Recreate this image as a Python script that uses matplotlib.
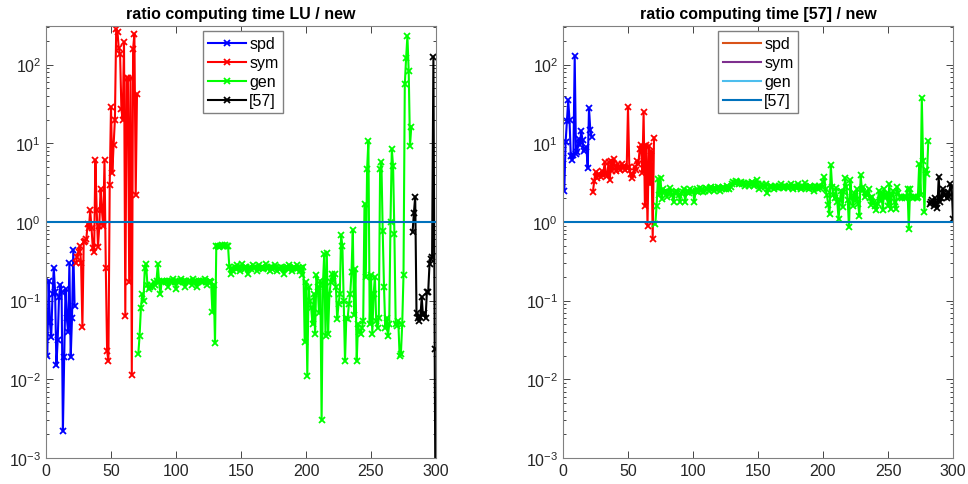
import numpy as np
import matplotlib
matplotlib.use("Agg")
import matplotlib.pyplot as plt
from matplotlib.lines import Line2D

plt.rcParams['font.family'] = ['Liberation Sans', 'DejaVu Sans']

# ---- left panel: ratio LU / new ----
lu_spd = [0.020, 0.18, 0.053, 0.034, 0.12, 0.26, 0.13, 0.015, 0.032, 0.11, 0.16,
          0.13, 0.0022, 0.019, 0.14, 0.06, 0.04, 0.30, 0.019, 0.06, 0.44, 0.085]
lu_sym = [0.30, 0.36, 0.42, 0.49, 0.30, 0.046, 0.56, 0.58, 0.60, 0.93, 0.83, 1.4,
          0.84, 0.47, 0.41, 6.1, 1.4, 0.48, 0.9, 2.6, 1.4, 0.9, 6.1, 0.26,
          0.023, 0.017, 2.95, 28.8, 4.2, 9.5, 20, 282, 257, 160, 135, 27,
          20, 192, 0.064, 67, 67, 0.17, 67, 0.0115, 158, 245, 2.2, 42]
lu_gen = [0.021, 0.036, 0.080, 0.12, 0.10, 0.26, 0.29, 0.16, 0.14, 0.15,
          0.16, 0.15, 0.17, 0.16, 0.18, 0.29, 0.17, 0.12, 0.18, 0.17,
          0.18, 0.17, 0.18, 0.15, 0.18, 0.17, 0.18, 0.19, 0.17, 0.14,
          0.18, 0.17, 0.18, 0.19, 0.17, 0.18, 0.15, 0.18, 0.17, 0.18,
          0.18, 0.16, 0.19, 0.17, 0.18, 0.15, 0.17, 0.18, 0.18, 0.17,
          0.18, 0.19, 0.17, 0.16, 0.17, 0.18,
          0.17, 0.071, 0.16, 0.029, 0.49, 0.50, 0.48, 0.50, 0.51, 0.49, 0.50, 0.51, 0.49, 0.50,
          0.27, 0.22, 0.26, 0.24, 0.27, 0.25, 0.28, 0.26, 0.24, 0.27,
          0.29, 0.26, 0.25, 0.27, 0.22, 0.26, 0.27, 0.25, 0.28, 0.26,
          0.27, 0.24, 0.26, 0.28, 0.26, 0.27, 0.25, 0.26, 0.29, 0.27,
          0.26, 0.24, 0.27, 0.25, 0.26, 0.28, 0.27, 0.24, 0.26, 0.25,
          0.27, 0.26, 0.22, 0.26, 0.27, 0.25, 0.28, 0.26, 0.24, 0.26,
          0.27, 0.25, 0.28, 0.26, 0.24, 0.26, 0.21, 0.27,
          0.03, 0.17, 0.011, 0.15, 0.10, 0.08, 0.05, 0.12, 0.038, 0.21,
          0.15, 0.07, 0.18, 0.003, 0.16, 0.39, 0.035, 0.40, 0.038, 0.12,
          0.17, 0.22, 0.18, 0.22, 0.15, 0.058, 0.09, 0.12, 0.68, 0.49,
          0.10, 0.017, 0.06, 0.058, 0.09, 0.12, 0.23, 0.79, 0.065, 0.25,
          0.017, 0.05, 0.04, 0.038, 0.045, 0.055, 1.7, 0.20, 4.7, 10.7,
          0.05, 0.21, 0.038, 0.12, 0.20, 0.055, 0.045, 0.06, 4.7, 5.8,
          0.76, 0.15, 0.045, 0.06, 0.035, 0.05, 1.0, 8.5, 5.1, 0.7,
          0.05, 0.048, 0.055, 0.02, 0.021, 0.05, 0.21, 56, 120, 229,
          83, 9.3, 16.3]
lu_57 = [0.75, 1.3, 2.1, 0.07, 0.06, 0.055, 0.062, 0.11, 0.065, 0.07,
         0.06, 0.13, 0.13, 0.29, 0.34, 0.36, 126, 0.024, 0.00001]

# ---- right panel: ratio [57] / new ----
r57_spd = [2.5, 10.3, 19, 35, 20, 6.9, 6.2, 7.0, 127, 7.3, 7.8, 11.3,
           9.5, 14.4, 11, 7.9, 8.5, 9.0, 4.8, 28, 14.8, 12]
r57_sym = [2.4, 3.3, 4.3, 3.6, 4.0, 4.1, 3.7, 4.4, 4.0, 5.7, 4.1, 3.8,
           5.7, 3.4, 6.0, 4.5, 6.3, 5.2, 4.4, 5.5, 4.9, 4.6, 5.5, 4.8,
           5.2, 4.6, 4.9, 28.5, 5.0, 4.1, 3.6, 3.9, 5.0, 4.6, 6.0, 5.5,
           8.5, 9.5, 4.2, 24.6, 1.6, 9.5, 0.89, 9.3, 3.0, 8.0, 0.61, 11.8]
r57_gen = [0.93, 1.6, 3.5, 2.2, 3.6, 1.95, 2.6, 2.4, 2.5, 2.1,
           2.3, 2.7, 2.4, 2.2, 1.8, 2.3, 2.5, 2.4, 2.2, 1.8,
           2.3, 2.4, 2.6, 1.8, 2.4, 2.5, 2.3, 2.6, 2.4, 2.5,
           1.8, 2.5, 2.6, 2.4, 2.7, 2.5, 2.6, 2.4, 2.5, 2.7,
           2.6, 2.5, 2.7, 2.8, 2.6, 2.5, 2.7, 2.6, 2.8, 2.7,
           2.5, 2.6, 2.8, 2.7, 2.6, 2.9, 2.7, 2.6, 2.8, 3.0,
           3.2, 3.1, 3.3, 3.2, 3.0, 3.1, 3.2, 3.0, 3.1, 2.9,
           3.0, 3.1, 2.9, 3.0, 3.2, 3.1, 2.9, 3.0, 3.4, 3.0,
           2.6, 2.8, 3.0, 2.9, 2.8, 3.0, 2.3, 2.6, 2.8, 2.9,
           2.8, 2.6, 2.9, 2.8, 2.7, 2.9, 2.8, 3.0, 2.8, 2.7,
           2.9, 2.8, 2.7, 2.9, 3.0, 2.8, 2.6, 2.9, 2.8, 2.7,
           3.0, 2.8, 2.6, 2.9, 2.8, 3.1, 2.8, 2.7, 2.6, 2.9,
           2.8, 2.7, 2.5, 2.9, 2.8, 2.6, 2.9, 2.7, 2.8, 3.2,
           3.7, 2.6, 2.2, 1.66, 1.25, 5.3, 2.8, 2.2, 2.0, 2.7,
           1.8, 1.08, 1.9, 2.5, 1.55, 2.4, 3.6, 2.8, 1.9, 0.85,
           3.4, 2.1, 1.6, 2.3, 1.9, 2.6, 1.7, 1.2, 3.9, 2.5,
           2.8, 2.1, 2.4, 2.2, 2.6, 2.0, 1.65, 2.1, 1.8, 1.6,
           1.4, 1.7, 2.5, 1.9, 2.3, 1.4, 2.6, 2.0, 2.3, 1.6,
           3.0, 1.45, 2.2, 2.5, 1.8, 1.45, 2.8, 2.3, 2.1, 2.1,
           2.0, 2.1, 2.0, 2.1, 2.6, 0.82, 2.6, 2.1, 2.0, 2.1,
           2.1, 2.0, 2.1, 5.4, 2.2, 38, 6.0, 1.35, 4.6, 4.1,
           10.7]
r57_57 = [1.7, 1.8, 1.9, 1.6, 2.0, 1.7, 1.5, 3.7, 1.8, 2.0,
          2.6, 2.3, 2.2, 2.0, 2.4, 2.1, 3.0, 2.8, 1.08]

labels = ['spd', 'sym', 'gen', '[57]']
series_colors = ['#0000ff', '#ff0000', '#00ff00', '#000000']
matlab_colors = ['#D95319', '#7E2F8E', '#4DBEEE', '#0072BD']
titles = ['ratio computing time LU / new', 'ratio computing time [57] / new']


def draw_panel(ax, groups, title):
    start = 1
    handles = []
    for vals, col in zip(groups, series_colors):
        x = np.arange(start, start + len(vals))
        h, = ax.plot(x, vals, '-x', color=col, lw=1.5, ms=5, mew=1.3)
        handles.append(h)
        start += len(vals)
    ax.axhline(1, color='#0072BD', lw=1.5)
    ax.set_yscale('log')
    ax.set_xlim(0, 300)
    ax.set_ylim(1e-3, 10 ** 2.49)
    ax.set_xticks(np.arange(0, 301, 50))
    ax.tick_params(which='both', direction='in', top=True, right=True,
                   labelsize=11.5, colors='#262626', width=0.6)
    ax.tick_params(which='major', length=5)
    ax.tick_params(which='minor', length=2.5)
    for sp in ax.spines.values():
        sp.set_color('#808080')
        sp.set_linewidth(0.8)
    ax.set_title(title, fontsize=11.5, fontweight='bold', pad=6)
    return handles


fig = plt.figure(figsize=(9.68, 4.85), dpi=100)
ax1 = fig.add_axes([46 / 968, 1 - 459 / 485, 390 / 968, 432 / 485])
ax2 = fig.add_axes([563 / 968, 1 - 459 / 485, 390 / 968, 432 / 485])

h1 = draw_panel(ax1, [lu_spd, lu_sym, lu_gen, lu_57], titles[0])
ax1.legend(h1, labels, loc='upper center', bbox_to_anchor=(0.505, 0.995),
           fontsize=11.5, handlelength=2.4, handletextpad=0.2, labelspacing=0.25,
           borderpad=0.3, fancybox=False, edgecolor='#808080', framealpha=1,
           borderaxespad=0.2)

draw_panel(ax2, [r57_spd, r57_sym, r57_gen, r57_57], titles[1])
dummy = [Line2D([], [], color=c, lw=1.5) for c in matlab_colors]
ax2.legend(dummy, labels, loc='upper center', bbox_to_anchor=(0.50, 0.995),
           fontsize=11.5, handlelength=2.4, handletextpad=0.2, labelspacing=0.25,
           borderpad=0.3, fancybox=False, edgecolor='#808080', framealpha=1,
           borderaxespad=0.2)

fig.savefig('out.png', dpi=100)
